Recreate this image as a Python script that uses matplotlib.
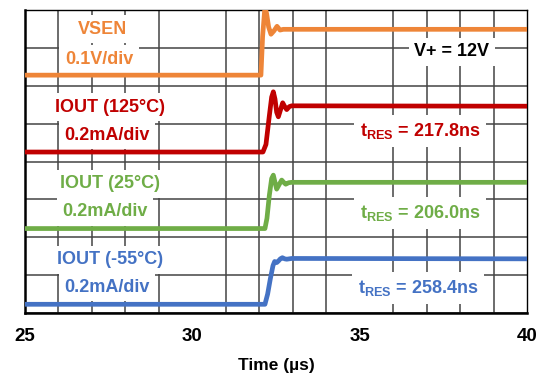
import matplotlib
matplotlib.use("Agg")
import matplotlib.pyplot as plt
from matplotlib.ticker import MultipleLocator

plt.rcParams['font.family'] = ['Liberation Sans', 'DejaVu Sans']
plt.rcParams['font.weight'] = 'bold'
plt.rcParams['mathtext.fontset'] = 'custom'
plt.rcParams['mathtext.rm'] = 'Liberation Sans:bold'
plt.rcParams['mathtext.it'] = 'Liberation Sans:bold'
plt.rcParams['mathtext.bf'] = 'Liberation Sans:bold'
plt.rcParams['mathtext.default'] = 'rm'

# ---- data (time in µs, amplitude in screen divisions) ----
t_vsen = [25, 32.05, 32.10, 32.17, 32.22, 32.28, 32.35, 32.44, 32.53, 32.62, 32.72, 40]
vsen   = [6.28, 6.28, 7.3, 8.1, 7.9, 7.55, 7.36, 7.45, 7.57, 7.47, 7.49, 7.49]

t_i125 = [25, 32.11, 32.20, 32.30, 32.37, 32.42, 32.47, 32.52, 32.57, 32.63, 32.70, 32.76, 32.82, 32.90, 32.97, 40]
i125   = [4.25, 4.25, 4.45, 5.2, 5.7, 5.84, 5.65, 5.3, 5.18, 5.35, 5.55, 5.45, 5.37, 5.45, 5.47, 5.46]

t_i25 = [25, 32.17, 32.23, 32.30, 32.37, 32.42, 32.47, 32.52, 32.60, 32.67, 32.73, 32.79, 32.88, 32.97, 40]
i25   = [2.23, 2.23, 2.5, 3.1, 3.55, 3.64, 3.45, 3.27, 3.40, 3.51, 3.45, 3.40, 3.44, 3.45, 3.45]

t_i55 = [25, 32.17, 32.25, 32.33, 32.41, 32.46, 32.52, 32.57, 32.63, 32.69, 32.76, 32.82, 32.97, 40]
i55   = [0.23, 0.23, 0.5, 0.9, 1.25, 1.36, 1.33, 1.37, 1.43, 1.46, 1.43, 1.42, 1.44, 1.43]

x_ticks = [25, 30, 35, 40]
x_label = "Time (µs)"

c_or, c_red, c_grn, c_blu = "#EE8538", "#C00000", "#6FAD47", "#4472C4"

fig = plt.figure(figsize=(5.43, 3.77), dpi=100)
ax = fig.add_axes([25/543, 1 - 313/377, 502/543, 303/377])
ax.set_xlim(25, 40)
ax.set_ylim(0, 8)

ax.xaxis.set_minor_locator(MultipleLocator(1))
ax.yaxis.set_minor_locator(MultipleLocator(1))
ax.set_xticks(x_ticks)
ax.set_yticks([])
ax.grid(which='minor', color='#444444', lw=1.1, zorder=0)
ax.tick_params(axis='x', which='both', length=0, labelsize=13.5, pad=11)
ax.tick_params(axis='y', which='both', length=0, labelleft=False)
for lab in ax.get_xticklabels():
    lab.set_fontweight('bold')
for s in ax.spines.values():
    s.set_linewidth(1.0)
    s.set_color('black')
ax.spines['bottom'].set_linewidth(1.8)
ax.spines['left'].set_linewidth(1.8)
ax.set_xlabel(x_label, fontsize=12.5, fontweight='bold', labelpad=9)

lw = 3.4
ax.plot(t_vsen, vsen, color=c_or, lw=lw, zorder=3, solid_joinstyle='round')
ax.plot(t_i125, i125, color=c_red, lw=lw, zorder=3, solid_joinstyle='round')
ax.plot(t_i25, i25, color=c_grn, lw=lw, zorder=3, solid_joinstyle='round')
ax.plot(t_i55, i55, color=c_blu, lw=lw, zorder=3, solid_joinstyle='round')

def px(x, y):
    # convert reference pixel to data coords
    return 25 + (x - 25) / 502 * 15, (313 - y) / 303 * 8

def label(x, y, s, c):
    tx, ty = px(x, y)
    ax.text(tx, ty, s, color=c, fontsize=13, fontweight='bold', ha='center', va='center',
            zorder=2, bbox=dict(facecolor='white', edgecolor='none', pad=4))

label(103, 29, "VSEN", c_or)
label(99, 59, "0.1V/div", c_or)
label(110, 107, "IOUT (125°C)", c_red)
label(107, 135, "0.2mA/div", c_red)
label(110, 184, "IOUT (25°C)", c_grn)
label(105, 212, "0.2mA/div", c_grn)
label(110, 260, "IOUT (-55°C)", c_blu)
label(107, 287, "0.2mA/div", c_blu)
label(452, 52, "V+ = 12V", "black")
label(420, 131, r"t$_{\mathrm{RES}}$ = 217.8ns", c_red)
label(420, 213, r"t$_{\mathrm{RES}}$ = 206.0ns", c_grn)
label(418, 288, r"t$_{\mathrm{RES}}$ = 258.4ns", c_blu)

fig.savefig("out.png", dpi=100)
